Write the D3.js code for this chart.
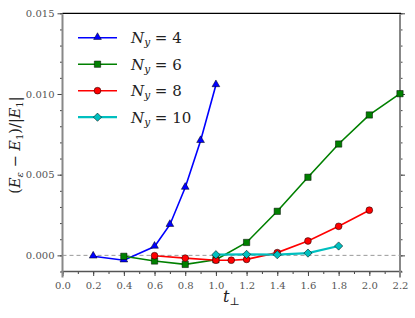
<!DOCTYPE html>
<html>
<head>
<meta charset="utf-8">
<script src="https://cdn.jsdelivr.net/npm/d3@7"></script>
<style>
  body { margin: 0; background: #fff; }
</style>
</head>
<body>
<svg width="415" height="318"></svg>
<script>
// values
const ny4x = [0.2, 0.4, 0.6, 0.7, 0.8, 0.9, 1.0];
const ny4y = [-0.00006, -0.0003, 0.00055, 0.0019, 0.0042, 0.0071, 0.01056];
const ny6x = [0.4, 0.6, 0.8, 1.0, 1.2, 1.4, 1.6, 1.8, 2.0, 2.2];
const ny6y = [-0.00006, -0.00035, -0.00056, -0.00027, 0.0008, 0.00273, 0.00484, 0.0069, 0.0087, 0.01002];
const ny8x = [0.6, 0.8, 1.0, 1.1, 1.2, 1.4, 1.6, 1.8, 2.0];
const ny8y = [-0.00002, -0.00017, -0.0003, -0.0003, -0.00025, 0.00017, 0.00089, 0.0018, 0.0028];
const ny10x = [1.0, 1.2, 1.4, 1.6, 1.8];
const ny10y = [0.00004, 0.00006, 0.00004, 0.00014, 0.00058];
const names = ["4", "6", "8", "10"];
const xTicks = [0, 0.2, 0.4, 0.6, 0.8, 1.0, 1.2, 1.4, 1.6, 1.8, 2.0, 2.2];
const yTicks = [0, 0.005, 0.01, 0.015];

const series = [
  {n: names[0], xs: ny4x, ys: ny4y, color: "#0000ff", sym: "tri", lw: 1.6},
  {n: names[1], xs: ny6x, ys: ny6y, color: "#008000", sym: "sq", lw: 1.6},
  {n: names[2], xs: ny8x, ys: ny8y, color: "#ff0000", sym: "circ", lw: 1.6},
  {n: names[3], xs: ny10x, ys: ny10y, color: "#00bfbf", sym: "dia", lw: 2.2}
];

const serif = "'DejaVu Serif', 'Liberation Serif', serif";
const pLeft = 62.5, pRight = 400, pTop = 13.3, pBottom = 271.5;
const svg = d3.select("svg");

const x = d3.scaleLinear().domain([0, 2.2]).range([pLeft, pRight]);
const y = d3.scaleLinear().domain([-0.001, 0.015]).range([pBottom, pTop]);

// ticks
const xMinor = d3.range(0, 2.21, 0.1);
const yMinor = d3.range(-0.001, 0.0151, 0.001);
function styleAxis(g) {
  g.attr("font-family", serif);
  g.select(".domain").remove();
  g.selectAll("line").attr("stroke", "#444").attr("stroke-width", 1);
  g.selectAll("text").attr("fill", "#555").style("font-size", "10px");
}
svg.append("g").attr("transform", `translate(0,${pBottom})`)
  .call(d3.axisBottom(x).tickValues(xMinor).tickSize(2.5).tickFormat(""))
  .call(styleAxis);
svg.append("g").attr("transform", `translate(0,${pBottom})`)
  .call(d3.axisBottom(x).tickValues(xTicks).tickSize(4.5).tickPadding(6).tickFormat(d3.format(".1f")))
  .call(styleAxis);
svg.append("g").attr("transform", `translate(${pLeft},0)`)
  .call(d3.axisLeft(y).tickValues(yMinor).tickSize(2.5).tickFormat(""))
  .call(styleAxis);
svg.append("g").attr("transform", `translate(${pLeft},0)`)
  .call(d3.axisLeft(y).tickValues(yTicks).tickSize(5).tickPadding(3).tickFormat(d3.format(".3f")))
  .call(styleAxis);
svg.append("g").attr("transform", `translate(${pRight},0)`)
  .call(d3.axisRight(y).tickValues(yMinor).tickSize(2.5).tickFormat(""))
  .call(styleAxis);
svg.append("g").attr("transform", `translate(${pRight},0)`)
  .call(d3.axisRight(y).tickValues(yTicks).tickSize(5).tickFormat(""))
  .call(styleAxis);

// spines
svg.append("line").attr("x1", pLeft).attr("x2", pRight + 1).attr("y1", pTop).attr("y2", pTop)
  .attr("stroke", "#000").attr("stroke-width", 1.2);
svg.append("line").attr("x1", pLeft - 1).attr("x2", pRight + 2).attr("y1", pBottom).attr("y2", pBottom)
  .attr("stroke", "#555").attr("stroke-width", 1.3);
[pLeft, pRight].forEach(px => {
  svg.append("line").attr("x1", px).attr("x2", px).attr("y1", pTop + 1).attr("y2", pBottom + 6)
    .attr("stroke", "#888").attr("stroke-width", 2);
});

// zero line
svg.append("line").attr("x1", pLeft).attr("x2", pRight).attr("y1", y(0)).attr("y2", y(0))
  .attr("stroke", "#999").attr("stroke-width", 1).attr("stroke-dasharray", "4,3");

function marker(g, s, cx, cy) {
  let p;
  if (s.sym === "tri") p = g.append("path").attr("d", d3.symbol(d3.symbolTriangle, 26)())
    .attr("transform", `translate(${cx},${cy - 0.5})`);
  else if (s.sym === "sq") p = g.append("path").attr("d", d3.symbol(d3.symbolSquare, 40)())
    .attr("transform", `translate(${cx},${cy})`);
  else if (s.sym === "circ") p = g.append("path").attr("d", d3.symbol(d3.symbolCircle, 36)())
    .attr("transform", `translate(${cx},${cy})`);
  else p = g.append("path").attr("d", d3.symbol(d3.symbolSquare, 34)())
    .attr("transform", `translate(${cx},${cy}) rotate(45)`);
  p.attr("fill", s.color).attr("stroke", "#000").attr("stroke-width", 0.5);
}

const line = d3.line().x(d => x(d[0])).y(d => y(d[1]));
series.forEach(s => {
  const pts = s.xs.map((v, i) => [v, s.ys[i]]);
  const g = svg.append("g");
  g.append("path").datum(pts).attr("d", line).attr("fill", "none")
    .attr("stroke", s.color).attr("stroke-width", s.lw);
  pts.forEach(d => marker(g, s, x(d[0]), y(d[1])));
});

// legend
series.forEach((s, i) => {
  const ly = 37.7 + i * 26.5;
  const g = svg.append("g");
  g.append("line").attr("x1", 78).attr("x2", 117).attr("y1", ly).attr("y2", ly)
    .attr("stroke", s.color).attr("stroke-width", s.lw);
  marker(g, s, 97.5, ly);
  const t = g.append("text").attr("x", 131).attr("y", ly + 5.5).attr("font-family", serif)
    .style("font-size", "15px").attr("fill", "#222");
  t.append("tspan").style("font-style", "italic").text("N");
  t.append("tspan").style("font-style", "italic").style("font-size", "10.5px").attr("dy", 3).text("y");
  t.append("tspan").attr("dy", -3).text(" = " + s.n);
});

// axis labels
const xl = svg.append("text").attr("x", 223).attr("y", 302).attr("font-family", serif)
  .style("font-size", "16px").attr("fill", "#222");
xl.append("tspan").style("font-style", "italic").text("t");
xl.append("tspan").style("font-size", "11px").attr("dy", 3).text("⊥");

const yl = svg.append("text").attr("transform", "translate(20,145) rotate(-90)").attr("font-family", serif)
  .attr("text-anchor", "middle").style("font-size", "14.5px").attr("fill", "#222");
yl.append("tspan").text("(");
yl.append("tspan").style("font-style", "italic").text("E");
yl.append("tspan").style("font-style", "italic").style("font-size", "10px").attr("dy", 3).text("ε");
yl.append("tspan").attr("dy", -3).text(" − ");
yl.append("tspan").style("font-style", "italic").text("E");
yl.append("tspan").style("font-size", "10px").attr("dy", 3).text("1");
yl.append("tspan").attr("dy", -3).text(")/|");
yl.append("tspan").style("font-style", "italic").text("E");
yl.append("tspan").style("font-size", "10px").attr("dy", 3).text("1");
yl.append("tspan").attr("dy", -3).text("|");
</script>
</body>
</html>
